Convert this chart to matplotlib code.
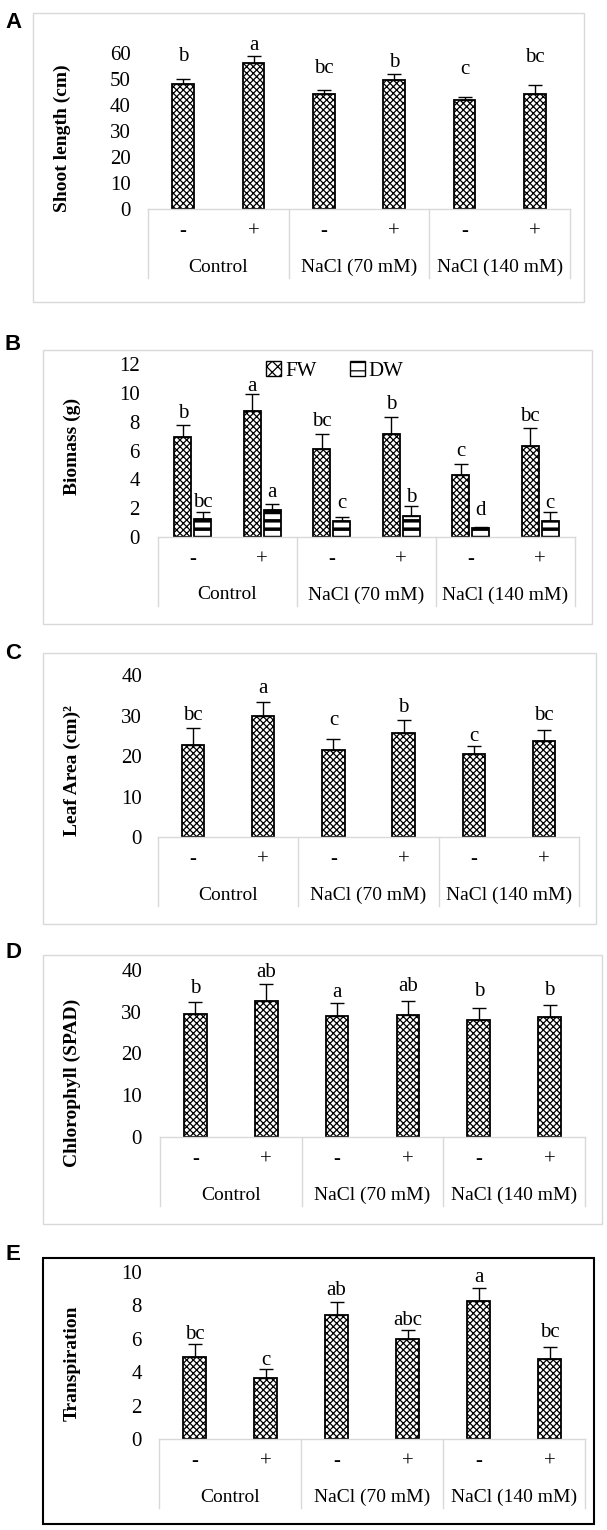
import matplotlib.pyplot as plt
from matplotlib.patches import Rectangle, Patch
from matplotlib.lines import Line2D
from matplotlib.transforms import blended_transform_factory
import numpy as np

W, H = 607, 1530
plt.rcParams['font.family'] = ['Liberation Serif', 'DejaVu Serif']
plt.rcParams['font.size'] = 14
plt.rcParams['hatch.linewidth'] = 0.9

treat = ['-', '+', '-', '+', '-', '+']
groups = ['Control', 'NaCl (70 mM)', 'NaCl (140 mM)']

# A - shoot length
shoot = [48.0, 56.3, 44.2, 49.6, 42.0, 44.2]
shoot_err = [2.1, 2.7, 1.7, 2.3, 1.2, 3.4]
shoot_let = ['b', 'a', 'bc', 'b', 'c', 'bc']
shoot_let_y = [58.5, 62.7, 54.2, 56.5, 53.8, 58.1]

# B - biomass
fw = [6.91, 8.74, 6.08, 7.17, 4.28, 6.29]
fw_err = [0.86, 1.16, 1.06, 1.13, 0.76, 1.25]
fw_let = ['b', 'a', 'bc', 'b', 'c', 'bc']
fw_let_y = [8.58, 10.47, 8.0, 9.2, 5.92, 8.34]
dw = [1.22, 1.87, 1.11, 1.48, 0.60, 1.11]
dw_err = [0.49, 0.44, 0.30, 0.69, 0.09, 0.60]
dw_let = ['bc', 'a', 'c', 'b', 'd', 'c']
dw_let_y = [2.38, 3.07, 2.34, 2.73, 1.83, 2.34]

# C - leaf area
leaf = [22.6, 29.9, 21.5, 25.6, 20.4, 23.7]
leaf_err = [4.2, 3.5, 2.6, 3.2, 2.0, 2.8]
leaf_let = ['bc', 'a', 'c', 'b', 'c', 'bc']
leaf_let_y = [30.1, 36.7, 28.7, 32.0, 24.8, 30.1]

# D - chlorophyll
chl = [29.5, 32.6, 29.0, 29.2, 28.0, 28.7]
chl_err = [2.9, 4.0, 3.0, 3.4, 3.0, 2.9]
chl_let = ['b', 'ab', 'a', 'ab', 'b', 'b']
chl_let_y = [35.6, 39.4, 34.6, 36.0, 34.8, 35.0]

# E - transpiration
transp = [4.89, 3.67, 7.43, 5.97, 8.26, 4.81]
transp_err = [0.78, 0.50, 0.77, 0.56, 0.78, 0.72]
transp_let = ['bc', 'c', 'ab', 'abc', 'a', 'bc']
transp_let_y = [6.27, 4.73, 8.92, 7.07, 9.66, 6.37]

GRID = '#d9d9d9'
FW_HATCH = 'xxxxx'


def fx(px):
    return px / W


def fy(py):
    return 1 - py / H


fig = plt.figure(figsize=(W / 100, H / 100), dpi=100)


def panel(label, lab_xy, box, axpx, ymax, ystep, ylabel, ylab_xy, tick_right,
          box_color=GRID, box_lw=1.0):
    x0, x1, ytop, y0 = axpx
    ax = fig.add_axes([fx(x0), fy(y0), fx(x1) - fx(x0), (y0 - ytop) / H])
    ax.set_xlim(0, 6)
    ax.set_ylim(0, ymax)
    ticks = np.arange(0, ymax + ystep / 2, ystep)
    ax.set_yticks(ticks)
    ax.set_yticklabels([f'{v:g}' for v in ticks], fontsize=15)
    ax.set_xticks([])
    ax.tick_params(axis='y', length=0, pad=(x0 - tick_right) * 0.72)
    for s in ['left', 'right', 'top']:
        ax.spines[s].set_visible(False)
    ax.spines['bottom'].set_color(GRID)
    ax.spines['bottom'].set_linewidth(1.0)
    ax.patch.set_visible(False)

    tr = blended_transform_factory(ax.transData, fig.transFigure)
    tb = y0 + 69
    for xv in [0, 2, 4, 6]:
        ax.add_line(Line2D([xv, xv], [fy(y0), fy(tb)], transform=tr,
                           color=GRID, lw=1.0, clip_on=False))
    for i, t in enumerate(treat):
        ax.text(i + 0.5, fy(y0 + 23), t, transform=tr, ha='center', va='center',
                fontsize=15)
    for g, name in enumerate(groups):
        ax.text(2 * g + 1, fy(y0 + 58), name, transform=tr, ha='center', va='center')

    fig.add_artist(Rectangle((fx(box[0]), fy(box[3])), fx(box[2]) - fx(box[0]),
                             (box[3] - box[1]) / H, transform=fig.transFigure,
                             fill=False, edgecolor=box_color, lw=box_lw))
    fig.text(fx(lab_xy[0]), fy(lab_xy[1]), label, family='Liberation Sans',
             weight='bold', size=16, ha='center', va='center')
    fig.text(fx(ylab_xy[0]), fy(ylab_xy[1]), ylabel, weight='bold', size=14,
             rotation=90, ha='center', va='center')
    return ax


def single(ax, vals, errs, lets, let_y, width):
    x = np.arange(6) + 0.5
    ax.bar(x, vals, width, color='white', edgecolor='black', lw=1.3,
           hatch=FW_HATCH, zorder=2)
    ax.errorbar(x, vals, yerr=[np.zeros(6), errs], fmt='none', ecolor='black',
                elinewidth=1.0, capsize=5, capthick=1.0, zorder=3)
    for xi, t, yv in zip(x, lets, let_y):
        ax.text(xi, yv, t, ha='center', va='center', fontsize=15, clip_on=False)


axA = panel('A', (14, 22), (33, 13, 584, 302), (148, 570, 53, 209), 60, 10,
            'Shoot length (cm)', (62, 138), 131)
single(axA, shoot, shoot_err, shoot_let, shoot_let_y, 0.31)

axB = panel('B', (13, 344), (43, 350, 592, 624), (158, 575, 364, 537), 12, 2,
            'Biomass (g)', (72, 446), 140)
xb = np.arange(6) + 0.5
bw = 0.24
fwb = axB.bar(xb - 0.144, fw, bw, color='white', edgecolor='black', lw=1.3,
              hatch=FW_HATCH, zorder=2)
dwb = axB.bar(xb + 0.144, dw, bw, color='white', edgecolor='black', lw=1.3,
              hatch='--', zorder=2)
for p in dwb:
    if hasattr(p, 'set_hatch_linewidth'):
        p.set_hatch_linewidth(2.5)
axB.errorbar(xb - 0.144, fw, yerr=[np.zeros(6), fw_err], fmt='none', ecolor='black',
             elinewidth=1.0, capsize=5, capthick=1.0, zorder=3)
axB.errorbar(xb + 0.144, dw, yerr=[np.zeros(6), dw_err], fmt='none', ecolor='black',
             elinewidth=1.0, capsize=5, capthick=1.0, zorder=3)
for xi, t, yv in zip(xb - 0.144, fw_let, fw_let_y):
    axB.text(xi, yv, t, ha='center', va='center', fontsize=15)
for xi, t, yv in zip(xb + 0.144, dw_let, dw_let_y):
    axB.text(xi, yv, t, ha='center', va='center', fontsize=15)
h_fw = Patch(facecolor='white', edgecolor='black', hatch='xxx', label='FW')
h_dw = Patch(facecolor='white', edgecolor='black', hatch='--', label='DW')
if hasattr(h_dw, 'set_hatch_linewidth'):
    h_dw.set_hatch_linewidth(2.5)
axB.legend(handles=[h_fw, h_dw], loc='center', bbox_to_anchor=(fx(335), fy(371)),
           bbox_transform=fig.transFigure, ncol=2, frameon=False, fontsize=15,
           handlelength=0.7, handleheight=0.7, handletextpad=0.2,
           columnspacing=1.6, borderpad=0)

axC = panel('C', (13, 653), (43, 653, 596, 924), (158, 579, 675, 837), 40, 10,
            'Leaf Area (cm)²', (72, 771), 142)
single(axC, leaf, leaf_err, leaf_let, leaf_let_y, 0.32)

axD = panel('D', (13, 952), (43, 955, 602, 1224), (160, 585, 970, 1137), 40, 10,
            'Chlorophyll (SPAD)', (72, 1083), 142)
single(axD, chl, chl_err, chl_let, chl_let_y, 0.32)

axE = panel('E', (13, 1254), (43, 1258, 594, 1524), (159, 585, 1272, 1439), 10, 2,
            'Transpiration', (72, 1363), 142, box_color='black', box_lw=1.5)
single(axE, transp, transp_err, transp_let, transp_let_y, 0.31)

fig.savefig('out.png', dpi=100)
